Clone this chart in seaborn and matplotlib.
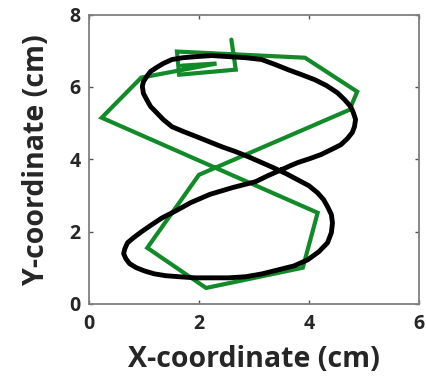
import matplotlib
matplotlib.use("Agg")
import matplotlib.pyplot as plt
import seaborn as sns
import pandas as pd

# Measured trajectory (green, piecewise linear)
meas_x = [2.59, 2.67, 1.64, 1.60, 3.93, 4.88, 4.74, 2.00, 1.06, 2.13, 3.89, 4.16, 0.23, 0.95, 2.32, 1.69]
meas_y = [7.31, 6.48, 6.34, 6.98, 6.81, 5.87, 5.37, 3.57, 1.55, 0.44, 1.00, 2.52, 5.15, 6.26, 6.65, 6.59]

# Target figure-eight (black, closed)
target_x = [3.50, 3.66, 3.80, 4.02, 4.22, 4.41, 4.58, 4.70, 4.79, 4.83,
            4.85, 4.81, 4.76, 4.65, 4.52, 4.32, 4.11, 3.87, 3.62, 3.39,
            3.14, 2.85, 2.54, 2.23, 1.95, 1.71, 1.51, 1.35, 1.23, 1.12,
            1.05, 0.99, 0.97, 0.99, 1.05, 1.12, 1.23, 1.35, 1.51, 1.73,
            1.95, 2.18, 2.41, 2.67, 2.90, 3.14, 3.35, 3.59, 3.80, 4.00,
            4.16, 4.27, 4.34, 4.41, 4.43, 4.41, 4.34, 4.18, 3.98, 3.73,
            3.44, 3.15, 2.85, 2.54, 2.23, 1.93, 1.64, 1.39, 1.19, 1.01,
            0.86, 0.74, 0.67, 0.63, 0.65, 0.70, 0.81, 0.95, 1.14, 1.33,
            1.55, 1.85, 2.20, 2.62, 3.03, 3.26, 3.50]
target_y = [3.71, 3.82, 3.91, 4.02, 4.13, 4.27, 4.40, 4.57, 4.74, 4.90,
            5.10, 5.29, 5.46, 5.65, 5.84, 6.04, 6.20, 6.34, 6.48, 6.62,
            6.76, 6.81, 6.84, 6.87, 6.84, 6.81, 6.76, 6.65, 6.54, 6.43,
            6.29, 6.15, 6.01, 5.82, 5.65, 5.46, 5.29, 5.10, 4.90, 4.76,
            4.63, 4.49, 4.35, 4.21, 4.07, 3.91, 3.77, 3.60, 3.43, 3.27,
            3.07, 2.88, 2.69, 2.47, 2.24, 1.97, 1.69, 1.44, 1.22, 1.05,
            0.94, 0.83, 0.75, 0.72, 0.72, 0.72, 0.75, 0.78, 0.83, 0.91,
            1.00, 1.11, 1.25, 1.39, 1.52, 1.69, 1.83, 1.99, 2.19, 2.38,
            2.55, 2.80, 3.03, 3.22, 3.38, 3.55, 3.71]

x_ticks = [0, 2, 4, 6]
y_ticks = [0, 2, 4, 6, 8]

sns.set_style("white")
plt.rcParams["font.family"] = ["Open Sans", "DejaVu Sans"]

fig = plt.figure(figsize=(4.26, 3.77), dpi=100)
ax = fig.add_axes([0.209, 0.194, 0.774, 0.767])

meas = pd.DataFrame({"x": meas_x, "y": meas_y})
targ = pd.DataFrame({"x": target_x, "y": target_y})

sns.lineplot(data=meas, x="x", y="y", sort=False, estimator=None, color="#118a28",
             linewidth=3.0, ax=ax, solid_joinstyle="miter")
sns.lineplot(data=targ, x="x", y="y", sort=False, estimator=None, color="black",
             linewidth=3.5, ax=ax, solid_joinstyle="round")

ax.set_xlim(0, 6)
ax.set_ylim(0, 8)
ax.set_xticks(x_ticks)
ax.set_yticks(y_ticks)
ax.set_xticklabels([str(t) for t in x_ticks], fontsize=14, fontweight="bold")
ax.set_yticklabels([str(t) for t in y_ticks], fontsize=14, fontweight="bold")
ax.tick_params(axis="x", pad=7)
ax.tick_params(axis="y", pad=6)
ax.tick_params(direction="in", length=3, width=1, color="#555555",
               top=True, right=True, bottom=True, left=True)
for s in ax.spines.values():
    s.set_color("#7f7f7f")
    s.set_linewidth(1.3)

ax.set_xlabel("X-coordinate (cm)", fontsize=20.5, fontweight="bold", labelpad=8)
ax.set_ylabel("Y-coordinate (cm)", fontsize=20.5, fontweight="bold", labelpad=13)

fig.savefig("out.png", dpi=100)
